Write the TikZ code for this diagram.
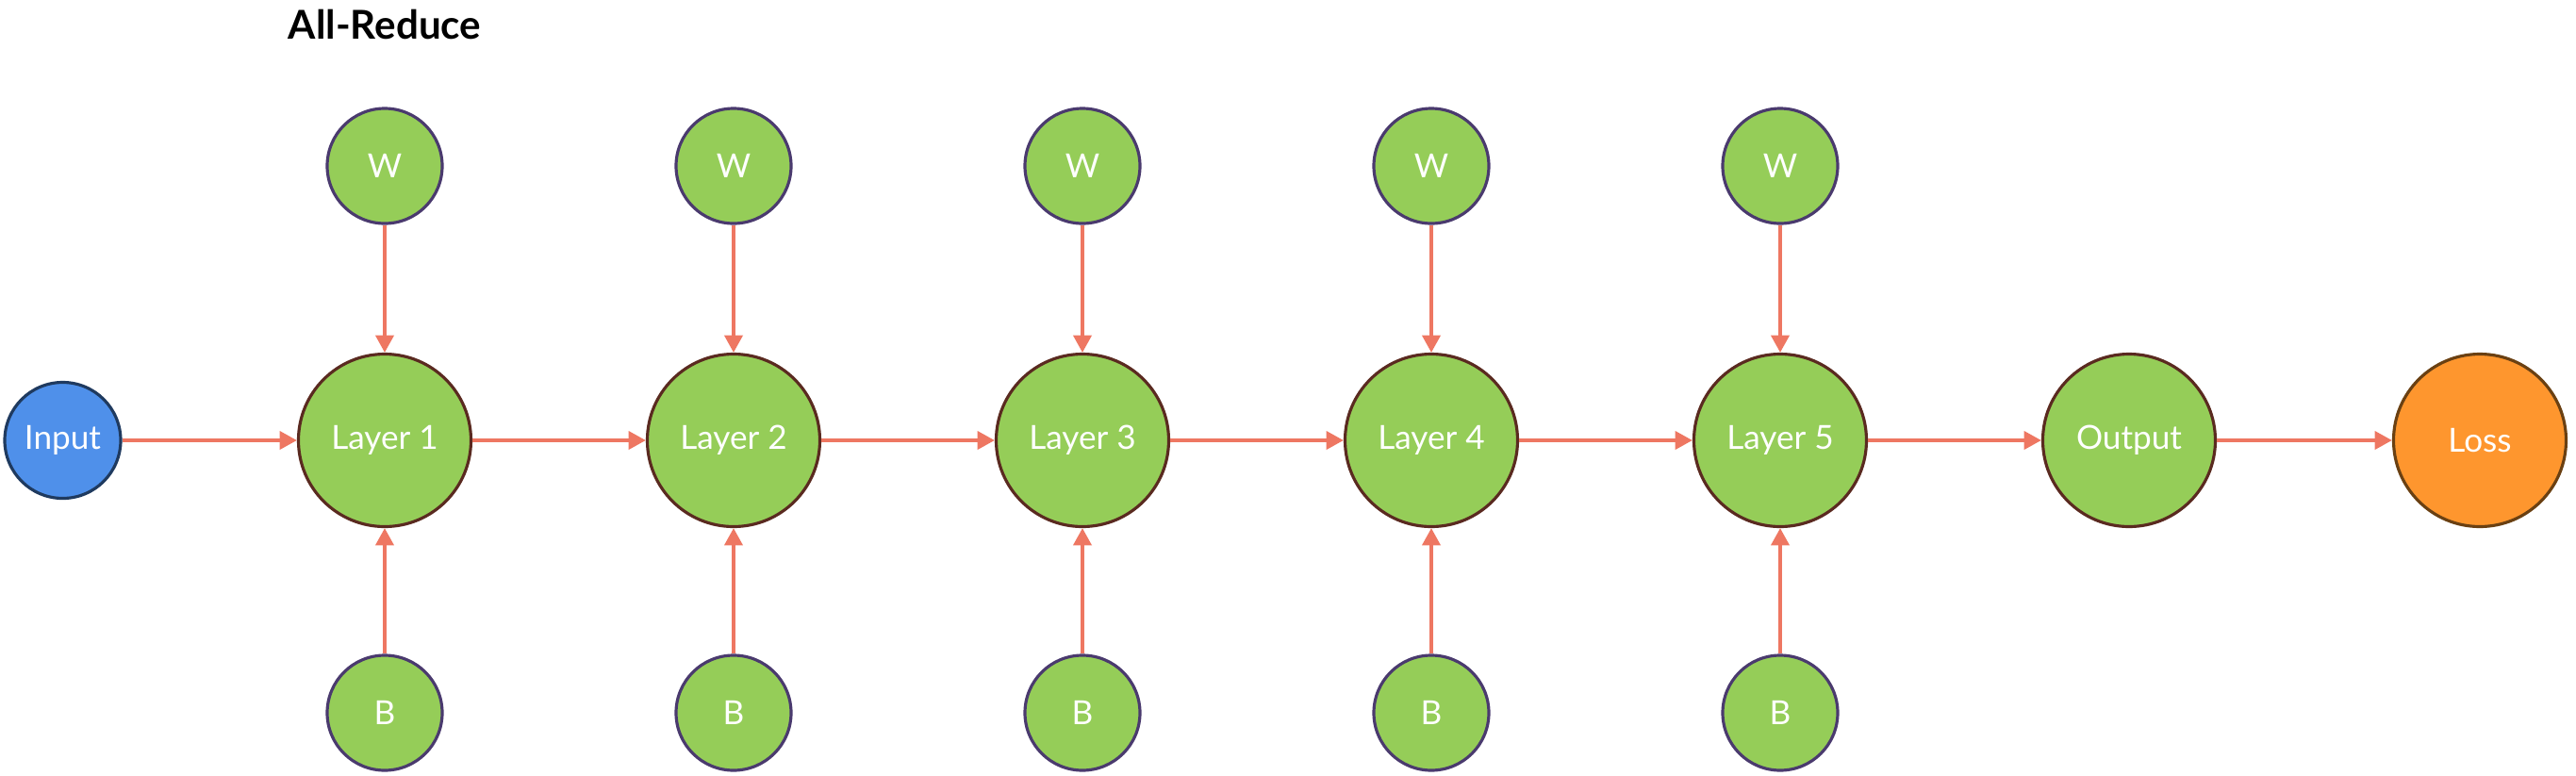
\documentclass[tikz,border=0pt]{standalone}
\usepackage{fontspec}
\setmainfont{Lato}
\usetikzlibrary{arrows.meta}
\definecolor{leafgreen}{HTML}{95CD58}
\definecolor{inblue}{HTML}{4F90EA}
\definecolor{lossorange}{HTML}{FE962E}
\definecolor{navyline}{HTML}{1F3A5F}
\definecolor{brownline}{HTML}{5A2A20}
\definecolor{plumline}{HTML}{4A3A6E}
\definecolor{amberline}{HTML}{6A4012}
\definecolor{salmon}{HTML}{EE7762}
\begin{document}
\begin{tikzpicture}[
  font=\fontsize{10pt}{12pt}\selectfont,
  layer/.style={draw=brownline,fill=leafgreen,circle,line width=0.9pt,minimum size=1.83cm,inner sep=0pt,text=white},
  param/.style={draw=plumline,fill=leafgreen,circle,line width=0.9pt,minimum size=1.22cm,inner sep=0pt,text=white},
  flow/.style={-{Triangle[length=5.2pt,width=5.4pt]},line width=1.1pt,draw=salmon}
]
\useasboundingbox (0,0) rectangle (27.32,-8.22);
\node[font=\fontsize{12pt}{14pt}\selectfont\bfseries] (title) at (4.08,-0.26) {All-Reduce};
\node[draw=navyline,fill=inblue,circle,line width=0.9pt,minimum size=1.23cm,inner sep=0pt,text=white] (IN) at (0.665,-4.67) {Input};
\node[layer] (L1) at (4.08,-4.67) {Layer 1};
\node[layer] (L2) at (7.78,-4.67) {Layer 2};
\node[layer] (L3) at (11.48,-4.67) {Layer 3};
\node[layer] (L4) at (15.18,-4.67) {Layer 4};
\node[layer] (L5) at (18.88,-4.67) {Layer 5};
\node[layer] (OUT) at (22.58,-4.67) {Output};
\node[layer,draw=amberline,fill=lossorange] (LOSS) at (26.30,-4.67) {Loss};
\node[param] (W1) at (4.08,-1.76) {W};
\node[param] (W2) at (7.78,-1.76) {W};
\node[param] (W3) at (11.48,-1.76) {W};
\node[param] (W4) at (15.18,-1.76) {W};
\node[param] (W5) at (18.88,-1.76) {W};
\node[param] (B1) at (4.08,-7.56) {B};
\node[param] (B2) at (7.78,-7.56) {B};
\node[param] (B3) at (11.48,-7.56) {B};
\node[param] (B4) at (15.18,-7.56) {B};
\node[param] (B5) at (18.88,-7.56) {B};
% forward chain
\draw[flow] (IN) -- (L1);
\draw[flow] (L1) -- (L2);
\draw[flow] (L2) -- (L3);
\draw[flow] (L3) -- (L4);
\draw[flow] (L4) -- (L5);
\draw[flow] (L5) -- (OUT);
\draw[flow] (OUT) -- (LOSS);
% weights and biases
\draw[flow] (W1) -- (L1);
\draw[flow] (W2) -- (L2);
\draw[flow] (W3) -- (L3);
\draw[flow] (W4) -- (L4);
\draw[flow] (W5) -- (L5);
\draw[flow] (B1) -- (L1);
\draw[flow] (B2) -- (L2);
\draw[flow] (B3) -- (L3);
\draw[flow] (B4) -- (L4);
\draw[flow] (B5) -- (L5);
\end{tikzpicture}
\end{document}
